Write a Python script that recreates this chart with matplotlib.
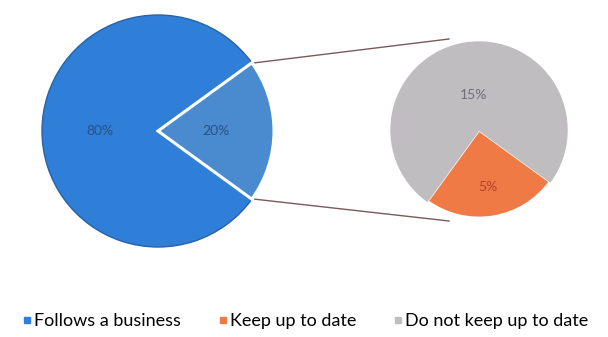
import matplotlib.pyplot as plt
import numpy as np
from matplotlib.lines import Line2D

plt.rcParams['font.family'] = ['Lato', 'DejaVu Sans']

# values
main_labels = ['Follows a business', 'Other']
main_values = [80, 20]
sub_labels = ['Keep up to date', 'Do not keep up to date']
sub_values = [5, 15]

blue = '#2f7fd8'
blue_light = '#4a8bcf'
orange = '#ef7a45'
grey = '#bfbdbf'

fig = plt.figure(figsize=(6.08, 3.37), dpi=100)
ax = fig.add_axes([0, 0, 1, 1])

# main pie, small slice centred on the right
c1, r1 = (158, 206), 116
start1 = main_values[1] / sum(main_values) * 360 / 2
w1, _ = ax.pie(main_values, colors=[blue, blue_light], startangle=start1,
               center=c1, radius=r1, frame=True)
w1[0].set_edgecolor('#2862a6')
w1[0].set_linewidth(1)
w1[1].set_edgecolor('white')
w1[1].set_linewidth(2.2)

# second pie, orange slice at the bottom
c2, r2 = (479, 207), 88
frac_o = sub_values[0] / sum(sub_values)
start2 = -81 - frac_o * 360 / 2
w2, _ = ax.pie(sub_values, colors=[orange, grey], startangle=start2,
               center=c2, radius=r2, frame=True)
w2[0].set_edgecolor('white')
w2[0].set_linewidth(2)
w2[1].set_edgecolor(grey)
ax.set_xlim(0, 608)
ax.set_ylim(0, 337)
ax.set_aspect('equal')
ax.axis('off')

# percentage labels
def put(wedge, center, r, dist, txt, col):
    ang = np.deg2rad((wedge.theta1 + wedge.theta2) / 2)
    ax.text(center[0] + dist * r * np.cos(ang), center[1] + dist * r * np.sin(ang),
            txt, ha='center', va='center', fontsize=10, color=col)

put(w1[0], c1, r1, 0.5, f'{main_values[0]}%', '#2b4f86')
put(w1[1], c1, r1, 0.5, f'{main_values[1]}%', '#2b4f86')
put(w2[0], c2, r2, 0.66, f'{sub_values[0]}%', '#b5412a')
put(w2[1], c2, r2, 0.4, f'{sub_values[1]}%', '#6e6e78')

# connector lines
for w_ang, tgt in [(w1[1].theta2, 90), (w1[1].theta1, 270)]:
    a = np.deg2rad(w_ang)
    x0, y0 = c1[0] + r1 * np.cos(a), c1[1] + r1 * np.sin(a)
    b = np.deg2rad(tgt)
    x1, y1 = c2[0] - 30, c2[1] + r2 * np.sin(b) + 3 * np.sign(np.sin(b))
    ax.plot([x0 + 3, x1], [y0, y1], color='#7a5a5a', lw=1)

handles = [Line2D([], [], marker='s', ls='', color=c, markersize=5)
           for c in [blue, orange, grey]]
fig.legend(handles, [main_labels[0]] + sub_labels, loc='lower center',
           ncol=3, frameon=False, fontsize=13, handletextpad=0.0,
           handlelength=0.8, columnspacing=1.9, bbox_to_anchor=(0.5, -0.025))

fig.savefig('out.png', dpi=100)
